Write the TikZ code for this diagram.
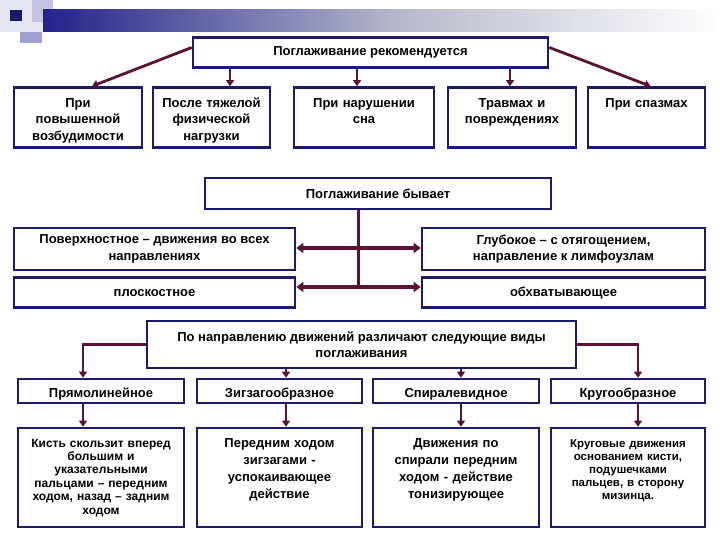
\documentclass[tikz,border=0pt]{standalone}
\usepackage{fontspec}
\setmainfont{Liberation Sans}
\usetikzlibrary{positioning, arrows.meta, calc}
\definecolor{boxNavy}{HTML}{1A1A6E}
\definecolor{arrowMaroon}{HTML}{5C1236}
\definecolor{barNavy}{HTML}{22228A}
\definecolor{barMist}{HTML}{B8B8CC}
\definecolor{tileLight}{HTML}{E6E6F2}
\definecolor{tileLilac}{HTML}{C4C4E2}
\definecolor{tileViolet}{HTML}{A0A0D0}

\begin{document}
\begin{tikzpicture}[x=1pt, y=-1pt, font=\fontsize{13}{16.5}\selectfont\bfseries,
    card/.style={draw=boxNavy, line width=2.6pt, fill=white, align=center, inner xsep=2pt, inner ysep=2pt},
    topcard/.style={card, text width=#1, inner ysep=4pt, text height=16pt, text depth=36pt},
    kindcard/.style={card, minimum width=#1, minimum height=24pt, text height=14pt, text depth=2pt},
    lowcard/.style={card, text width=#1, inner ysep=4pt, text height=15pt, text depth=76pt},
    link/.style={draw=arrowMaroon, line width=2.8pt, -{Triangle[length=6pt, width=8pt]}},
    twolink/.style={draw=arrowMaroon, line width=3.6pt,
                    {Triangle[length=7pt, width=10pt]}-{Triangle[length=7pt, width=10pt]}}]
    \useasboundingbox (0,0) rectangle (720,540);

    % slide header
    \fill[tileLight] (0,0) rectangle (43,32);
    \fill[tileLilac] (32,0) rectangle (53,22);
    \fill[tileViolet] (20,32) rectangle (42,43);
    \shade[left color=barNavy, right color=barMist] (43,10) rectangle (400,32);
    \shade[left color=barMist, right color=white] (400,10) rectangle (720,32);
    \fill[barNavy!80!black] (10,10) rectangle (22,21);

    % where stroking helps
    \node[card, minimum width=355pt, minimum height=30pt] (rec) at (370.5,52.5) {Поглаживание рекомендуется};
    \node[topcard=124pt] (hi) at (78,117.5) {При\\повышенной\\возбудимости};
    \node[topcard=113pt] (ph) at (211.5,117.5) {После тяжелой\\физической\\нагрузки};
    \node[topcard=136pt] (sl) at (364,117.5) {При нарушении\\сна};
    \node[topcard=124pt] (tr) at (512,117.5) {Травмах и\\повреждениях};
    \node[topcard=113pt] (sp) at (646.5,117.5) {При спазмах};

    \coordinate (phTop) at ([xshift=18.5pt]ph.north);
    \coordinate (slTop) at ([xshift=-7pt]sl.north);
    \coordinate (trTop) at ([xshift=-2pt]tr.north);
    \draw[link] ([yshift=5pt]rec.west) -- ([xshift=14pt]hi.north);
    \draw[link] (phTop |- rec.south) -- (phTop);
    \draw[link] (slTop |- rec.south) -- (slTop);
    \draw[link] (trTop |- rec.south) -- (trTop);
    \draw[link] ([yshift=5pt]rec.east) -- ([xshift=4pt]sp.north);

    % kinds of stroking
    \node[card, minimum width=346pt, minimum height=31pt] (byv) at (378,193.5) {Поглаживание бывает};
    \node[card, minimum width=281pt, minimum height=42pt] (pov) at (154.5,249) {Поверхностное – движения во всех\\направлениях};
    \node[card, minimum width=281pt, minimum height=30pt, below=5pt of pov] (plo) {плоскостное};
    \node[card, minimum width=283pt, minimum height=42pt] (glu) at (563.5,249) {Глубокое – с отягощением,\\направление к лимфоузлам};
    \node[card, minimum width=283pt, minimum height=30pt, below=5pt of glu] (obh) {обхватывающее};

    \coordinate (hubHi) at (358.5,248);
    \coordinate (hubLo) at (358.5,287);
    \draw[arrowMaroon, line width=3pt] (byv.south -| hubLo) -- (hubLo);
    \draw[twolink] (pov.east |- hubHi) -- (glu.west |- hubHi);
    \draw[twolink] (plo.east |- hubLo) -- (obh.west |- hubLo);

    % by direction of movement
    \node[card, minimum width=429pt, minimum height=47pt] (vid) at (361.5,344.5) {По направлению движений различают следующие виды\\поглаживания};
    \node[kindcard=166pt] (pry) at (101,391) {Прямолинейное};
    \node[kindcard=165pt] (zig) at (279.5,391) {Зигзагообразное};
    \node[kindcard=166pt] (spi) at (456,391) {Спиралевидное};
    \node[kindcard=154pt] (kru) at (628,391) {Кругообразное};

    \node[lowcard=162pt, font=\fontsize{12}{13.4}\selectfont\bfseries] (pryd) at (101,477.5)
        {Кисть скользит вперед\\большим и\\указательными\\пальцами – передним\\ходом, назад – задним\\ходом};
    \node[lowcard=161pt, font=\fontsize{13}{17}\selectfont\bfseries] (zigd) at (279.5,477.5)
        {Передним ходом\\зигзагами -\\успокаивающее\\действие};
    \node[lowcard=162pt, font=\fontsize{13}{17}\selectfont\bfseries] (spid) at (456,477.5)
        {Движения по\\спирали передним\\ходом - действие\\тонизирующее};
    \node[lowcard=150pt, font=\fontsize{11.5}{13}\selectfont\bfseries] (krud) at (628,477.5)
        {Круговые движения\\основанием кисти,\\подушечками\\пальцев, в сторону\\мизинца.};

    \coordinate (pryTop) at ([xshift=-18pt]pry.north);
    \coordinate (zigTop) at ([xshift=6.5pt]zig.north);
    \coordinate (spiTop) at ([xshift=5pt]spi.north);
    \coordinate (kruTop) at ([xshift=10pt]kru.north);
    \draw[link] (vid.west) -| (pryTop);
    \draw[link] (vid.east) -| (kruTop);
    \draw[link] (zigTop |- vid.south) -- (zigTop);
    \draw[link] (spiTop |- vid.south) -- (spiTop);
    \draw[link] (pryTop |- pry.south) -- (pryTop |- pryd.north);
    \draw[link] (zigTop |- zig.south) -- (zigTop |- zigd.north);
    \draw[link] (spiTop |- spi.south) -- (spiTop |- spid.north);
    \draw[link] (kruTop |- kru.south) -- (kruTop |- krud.north);
\end{tikzpicture}
\end{document}
